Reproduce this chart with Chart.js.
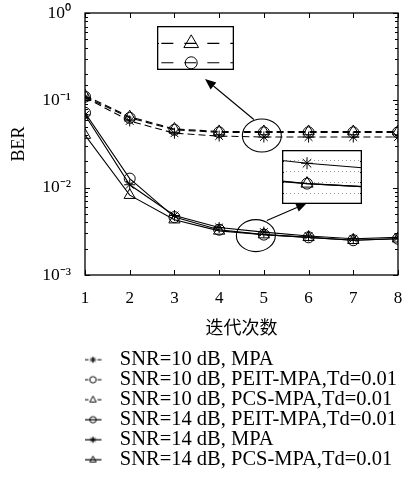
<!DOCTYPE html>
<html>
<head>
<meta charset="utf-8">
<script src="https://cdn.jsdelivr.net/npm/chart.js@4.4.0/dist/chart.umd.min.js"></script>
<style>
  body { margin: 0; background: #fff; }
  #wrap { position: relative; width: 406px; height: 484px; }
  #wrap canvas { position: absolute; }
  #main { left: 0; top: 0; }
  #inset1 { left: 157px; top: 26px; background: #fff; }
  #inset2 { left: 282px; top: 150px; background: #fff; }
</style>
</head>
<body>
<div id="wrap">
  <canvas id="main" width="406" height="484"></canvas>
  <canvas id="inset1" width="77" height="44"></canvas>
  <canvas id="inset2" width="80" height="54"></canvas>
</div>
<script>
// BER vs iteration count
const iterations = [1, 2, 3, 4, 5, 6, 7, 8];
const mpa10  = [0.108, 0.058, 0.042, 0.039, 0.038, 0.038, 0.038, 0.038];
const peit10 = [0.110, 0.063, 0.046, 0.043, 0.043, 0.043, 0.043, 0.043];
const pcs10  = [0.113, 0.065, 0.047, 0.044, 0.044, 0.044, 0.044, 0.044];
const peit14 = [0.072, 0.0127, 0.0046, 0.0033, 0.0029, 0.0027, 0.0025, 0.0026];
const mpa14  = [0.068, 0.0108, 0.0048, 0.0035, 0.0031, 0.0028, 0.0026, 0.0027];
const pcs14  = [0.040, 0.0082, 0.0043, 0.0032, 0.0029, 0.0027, 0.0025, 0.0026];

const seriesLabels = [
    "SNR=10 dB, MPA",
    "SNR=10 dB, PEIT-MPA,Td=0.01",
    "SNR=10 dB, PCS-MPA,Td=0.01",
    "SNR=14 dB, PEIT-MPA,Td=0.01",
    "SNR=14 dB, MPA",
    "SNR=14 dB, PCS-MPA,Td=0.01"
];
const yTickValues = [0.001, 0.01, 0.1, 1];
const yTickLabels = ["10⁻³", "10⁻²", "10⁻¹", "10⁰"];
const xTitle = "迭代次数";
const yTitle = "BER";

Chart.defaults.font.family = "'Liberation Serif', 'Noto Sans CJK SC', serif";
Chart.defaults.color = "#000";

function drawMarker(g, style, x, y, r) {
    g.beginPath();
    if (style === "circle") {
        g.arc(x, y, r, 0, Math.PI * 2);
    } else if (style === "triangle") {
        g.moveTo(x, y - r * 1.15);
        g.lineTo(x + r, y + r * 0.7);
        g.lineTo(x - r, y + r * 0.7);
        g.closePath();
    } else {
        for (let a = 0; a < 4; a++) {
            const t = a * Math.PI / 4;
            g.moveTo(x - Math.cos(t) * r, y - Math.sin(t) * r);
            g.lineTo(x + Math.cos(t) * r, y + Math.sin(t) * r);
        }
    }
    g.stroke();
}

function legendSample(style, dashed) {
    const c = document.createElement("canvas");
    c.width = 25; c.height = 12;
    const g = c.getContext("2d");
    g.strokeStyle = "#000";
    g.lineWidth = 1.2;
    g.beginPath();
    if (dashed) {
        g.moveTo(0, 6); g.lineTo(4, 6);
        g.moveTo(13, 6); g.lineTo(17, 6);
    } else {
        g.moveTo(0, 6); g.lineTo(17, 6);
    }
    g.stroke();
    g.lineWidth = 1;
    drawMarker(g, style, 8.5, 6, 3.2);
    return c;
}

const markers = ["star", "circle", "triangle", "circle", "star", "triangle"];
const dashed = [true, true, true, false, false, false];
const legendIcons = markers.map((m, i) => legendSample(m, dashed[i]));

function makeDataset(label, values, marker, isDashed, r) {
    return {
        label: label,
        data: values,
        borderColor: "#000",
        borderWidth: 1.1,
        borderDash: isDashed ? [7, 4] : [],
        pointStyle: marker,
        pointRadius: marker === "triangle" ? r + 1 : r,
        pointBorderColor: "#000",
        pointBorderWidth: 1,
        pointBackgroundColor: "rgba(0,0,0,0)",
        tension: 0
    };
}

const allSeries = [mpa10, peit10, pcs10, peit14, mpa14, pcs14];

// inward ticks + box
const frameTicks = {
    id: "frameTicks",
    afterDraw(chart) {
        const { ctx, chartArea: a, scales: { x, y } } = chart;
        ctx.save();
        ctx.strokeStyle = "#000";
        ctx.lineWidth = 1;
        ctx.beginPath();
        x.ticks.forEach(t => {
            const px = Math.round(x.getPixelForValue(t.value)) + 0.5;
            ctx.moveTo(px, a.bottom); ctx.lineTo(px, a.bottom - 5);
            ctx.moveTo(px, a.top); ctx.lineTo(px, a.top + 5);
        });
        y.ticks.forEach(t => {
            const major = yTickValues.some(v => Math.abs(v - t.value) < v * 1e-6);
            const len = major ? 5 : 3;
            const py = Math.round(y.getPixelForValue(t.value)) + 0.5;
            ctx.moveTo(a.left, py); ctx.lineTo(a.left + len, py);
            ctx.moveTo(a.right, py); ctx.lineTo(a.right - len, py);
        });
        ctx.stroke();
        ctx.lineWidth = 1.3;
        ctx.strokeRect(a.left, a.top, a.right - a.left, a.bottom - a.top);
        ctx.restore();
    }
};

function arrow(ctx, x0, y0, x1, y1) {
    const ang = Math.atan2(y1 - y0, x1 - x0);
    const len = 11, half = 4.5;
    ctx.beginPath();
    ctx.moveTo(x0, y0);
    ctx.lineTo(x1 - Math.cos(ang) * len, y1 - Math.sin(ang) * len);
    ctx.stroke();
    ctx.beginPath();
    ctx.moveTo(x1, y1);
    ctx.lineTo(x1 - Math.cos(ang) * len - Math.sin(ang) * half, y1 - Math.sin(ang) * len + Math.cos(ang) * half);
    ctx.lineTo(x1 - Math.cos(ang) * len + Math.sin(ang) * half, y1 - Math.sin(ang) * len - Math.cos(ang) * half);
    ctx.closePath();
    ctx.fill();
}

// ellipses around the zoomed points and arrows to the insets
const zoomMarks = {
    id: "zoomMarks",
    afterDraw(chart) {
        const { ctx, scales: { x, y } } = chart;
        const c1 = { x: x.getPixelForValue(5) - 2, y: y.getPixelForValue(pcs10[4]) + 4 };
        const c2 = { x: x.getPixelForValue(5) - 8, y: y.getPixelForValue(peit14[4]) + 1 };
        ctx.save();
        ctx.strokeStyle = "#000";
        ctx.fillStyle = "#000";
        ctx.lineWidth = 1.1;
        ctx.beginPath();
        ctx.ellipse(c1.x, c1.y, 19.5, 16.5, 0, 0, Math.PI * 2);
        ctx.stroke();
        ctx.beginPath();
        ctx.ellipse(c2.x, c2.y, 19.5, 16, 0, 0, Math.PI * 2);
        ctx.stroke();
        arrow(ctx, c1.x - 8, c1.y - 16, 157 + 48, 26 + 44 + 9);
        arrow(ctx, c2.x + 11, c2.y - 15, 282 + 25, 150 + 53);
        ctx.restore();
    }
};

new Chart(document.getElementById("main"), {
    type: "line",
    data: {
        labels: iterations,
        datasets: allSeries.map((s, i) => makeDataset(seriesLabels[i], s, markers[i], dashed[i], 5.5))
    },
    options: {
        responsive: false,
        animation: false,
        layout: { autoPadding: false, padding: { top: 13, right: 8, bottom: 4, left: 0 } },
        scales: {
            x: {
                type: "linear",
                min: 1,
                max: 8,
                grid: { display: false, drawTicks: false },
                border: { display: false },
                ticks: { stepSize: 1, padding: 13, font: { size: 17 } },
                title: { display: true, text: xTitle, font: { size: 18 }, padding: { top: 0, bottom: 10 } },
                afterFit(s) {
                    s.height = 75;
                    s.paddingLeft = 0;
                    s.paddingRight = 0;
                }
            },
            y: {
                type: "logarithmic",
                min: 0.001,
                max: 1,
                grid: { display: false, drawTicks: false },
                border: { display: false },
                ticks: {
                    autoSkip: false,
                    padding: 14,
                    font: { size: 17.5 },
                    callback: v => {
                        const i = yTickValues.findIndex(t => Math.abs(t - v) < t * 1e-6);
                        return i >= 0 ? yTickLabels[i] : "";
                    }
                },
                title: { display: true, text: yTitle, font: { size: 18 }, padding: { top: 8, bottom: 0 } },
                afterFit(s) {
                    s.width = 85;
                    s.paddingTop = 0;
                    s.paddingBottom = 0;
                }
            }
        },
        plugins: {
            tooltip: { enabled: false },
            legend: {
                position: "bottom",
                align: "start",
                fullSize: false,
                labels: {
                    usePointStyle: true,
                    pointStyleWidth: 25,
                    padding: -0.5,
                    font: { size: 20.5 },
                    generateLabels(chart) {
                        const items = Chart.defaults.plugins.legend.labels.generateLabels(chart);
                        items.forEach((it, i) => { it.pointStyle = legendIcons[i]; });
                        return items;
                    }
                }
            }
        }
    },
    plugins: [frameTicks, zoomMarks]
});

// border and small ticks of the zoom windows
const insetFrame = {
    id: "insetFrame",
    afterDraw(chart) {
        const { ctx, chartArea: a, scales: { x, y } } = chart;
        ctx.save();
        ctx.strokeStyle = "#000";
        ctx.lineWidth = 1;
        ctx.beginPath();
        x.ticks.forEach(t => {
            const px = Math.round(x.getPixelForValue(t.value)) + 0.5;
            ctx.moveTo(px, a.top); ctx.lineTo(px, a.top + 2);
            ctx.moveTo(px, a.bottom); ctx.lineTo(px, a.bottom - 2);
        });
        y.ticks.forEach(t => {
            const py = Math.round(y.getPixelForValue(t.value)) + 0.5;
            ctx.moveTo(a.left, py); ctx.lineTo(a.left + 2, py);
            ctx.moveTo(a.right, py); ctx.lineTo(a.right - 2, py);
        });
        ctx.stroke();
        ctx.lineWidth = 1.3;
        ctx.strokeRect(0.65, 0.65, chart.width - 1.3, chart.height - 1.3);
        ctx.restore();
    }
};

function insetOptions(xMin, xMax, yMin, yMax, yGrid) {
    return {
        responsive: false,
        animation: false,
        layout: { autoPadding: false, padding: 0 },
        scales: {
            x: { type: "linear", min: xMin, max: xMax, display: false },
            y: {
                type: "linear",
                min: yMin,
                max: yMax,
                display: yGrid,
                grid: { display: yGrid, color: "#9a9a9a", lineWidth: 1, drawTicks: false },
                border: { display: false, dash: [1, 3] },
                ticks: { display: false },
                afterBuildTicks(s) {
                    if (yGrid) {
                        s.ticks = [0, 1, 2, 3, 4, 5].map(k => ({ value: yMin + k * (yMax - yMin) / 5 }));
                    }
                },
                afterFit(s) { s.width = 0; }
            }
        },
        plugins: { legend: { display: false }, tooltip: { enabled: false } }
    };
}

new Chart(document.getElementById("inset1"), {
    type: "line",
    data: {
        labels: iterations,
        datasets: [
            Object.assign(makeDataset(seriesLabels[2], pcs10, "triangle", true, 7.5), { borderDash: [12, 11] }),
            Object.assign(makeDataset(seriesLabels[1], peit10, "circle", true, 6), { borderDash: [12, 11] })
        ]
    },
    options: insetOptions(4.84, 5.20, 0.04263, 0.04489, false),
    plugins: [insetFrame]
});

new Chart(document.getElementById("inset2"), {
    type: "line",
    data: {
        labels: iterations,
        datasets: [
            makeDataset(seriesLabels[4], mpa14, "star", false, 6),
            makeDataset(seriesLabels[3], peit14, "circle", false, 5.5),
            makeDataset(seriesLabels[5], pcs14, "triangle", false, 6)
        ]
    },
    options: insetOptions(4.934, 5.145, 0.0027, 0.00323, true),
    plugins: [insetFrame]
});
</script>
</body>
</html>
